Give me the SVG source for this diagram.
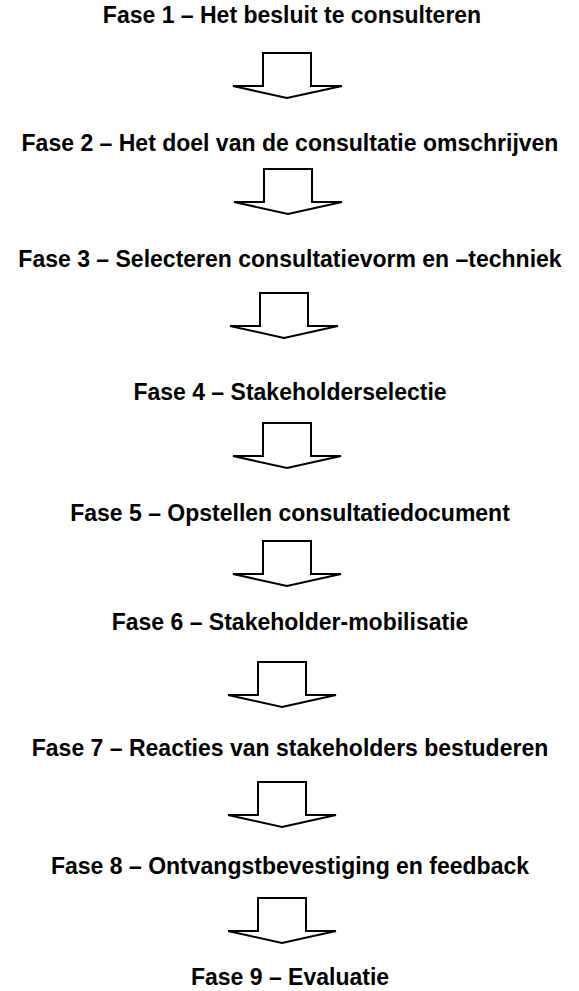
<svg xmlns="http://www.w3.org/2000/svg" width="579" height="991" viewBox="0 0 579 991">
<style>
.t{font-family:"Liberation Sans",Arial,sans-serif;font-weight:bold;font-size:23px;fill:#000;text-anchor:middle}
.a{fill:#fff;stroke:#000;stroke-width:2;stroke-linejoin:miter}
</style>
<rect width="579" height="991" fill="#fff"/>
<g id="fase1"><text class="t" x="292" y="23">Fase 1 – Het besluit te consulteren</text></g>
<g id="fase2"><text class="t" x="290" y="151">Fase 2 – Het doel van de consultatie omschrijven</text></g>
<g id="fase3"><text class="t" x="290" y="267">Fase 3 – Selecteren consultatievorm en –techniek</text></g>
<g id="fase4"><text class="t" x="290" y="400">Fase 4 – Stakeholderselectie</text></g>
<g id="fase5"><text class="t" x="290" y="521">Fase 5 – Opstellen consultatiedocument</text></g>
<g id="fase6"><text class="t" x="290" y="630">Fase 6 – Stakeholder-mobilisatie</text></g>
<g id="fase7"><text class="t" x="290" y="756">Fase 7 – Reacties van stakeholders bestuderen</text></g>
<g id="fase8"><text class="t" x="290" y="874">Fase 8 – Ontvangstbevestiging en feedback</text></g>
<g id="fase9"><text class="t" x="290" y="985">Fase 9 – Evaluatie</text></g>
<g id="connectors">
<polygon class="a" points="263,53 311,53 311,86 342,86 287,98 233,86 263,86"/>
<polygon class="a" points="264,169 312,169 312,202 342,202 288,214 234,202 264,202"/>
<polygon class="a" points="260,293 308,293 308,326 338,326 284,338 230,326 260,326"/>
<polygon class="a" points="263,423 311,423 311,456 341,456 287,468 233,456 263,456"/>
<polygon class="a" points="263,541 311,541 311,574 341,574 287,586 233,574 263,574"/>
<polygon class="a" points="258,662 306,662 306,695 336,695 282,707 228,695 258,695"/>
<polygon class="a" points="258,782 306,782 306,815 336,815 282,827 228,815 258,815"/>
<polygon class="a" points="258,898 306,898 306,931 336,931 282,943 228,931 258,931"/>
</g>
</svg>
